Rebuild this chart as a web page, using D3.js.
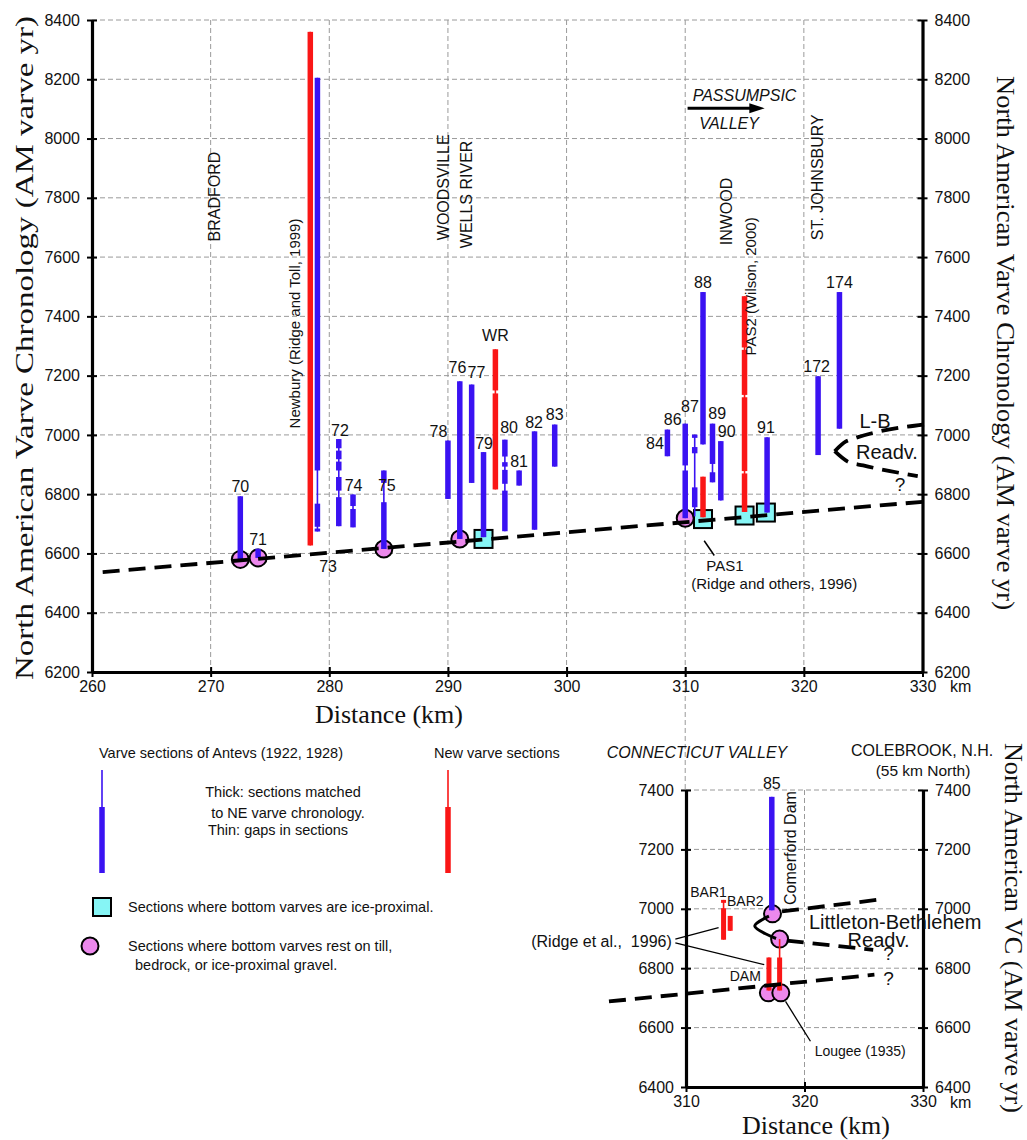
<!DOCTYPE html>
<html>
<head>
<meta charset="utf-8">
<script src="https://cdn.jsdelivr.net/npm/d3@7"></script>
<style>
  body { margin: 0; background: #fff; }
  text { font-family: "Liberation Sans", Arial, sans-serif; fill: #111; }
  .serif { font-family: "Liberation Serif", "Times New Roman", serif; }
</style>
</head>
<body>
<div id="chart-area"></div>
<script>
// ---- data ----
const kmTicks = [260, 270, 280, 290, 300, 310, 320, 330]
const yrTicks = [6200, 6400, 6600, 6800, 7000, 7200, 7400, 7600, 7800, 8000, 8200, 8400]
const insetKmTicks = [310, 320, 330]
const insetYrTicks = [6400, 6600, 6800, 7000, 7200, 7400]

// Antevs sections: [label, km, bottom yr, top yr]
const antevsSections = [
  ["70", 272.5, 6580, 6793],
  ["71", 274.0, 6585, 6616],
  ["73", 279.0, 6674, 8205],
  ["72", 280.8, 6692, 6986],
  ["74", 282.0, 6688, 6799],
  ["75", 284.6, 6615, 6880],
  ["78", 290.0, 6784, 6981],
  ["76", 291.0, 6649, 7181],
  ["77", 292.0, 6838, 7170],
  ["79", 293.0, 6655, 6942],
  ["80", 294.8, 6675, 6984],
  ["81", 296.0, 6829, 6880],
  ["82", 297.3, 6680, 7012],
  ["83", 299.0, 6893, 7035],
  ["84", 308.5, 6928, 7018],
  ["86", 310.0, 6719, 7038],
  ["87", 310.8, 6725, 7001],
  ["88", 311.5, 6968, 7482],
  ["89", 312.3, 6840, 7038],
  ["90", 313.0, 6779, 6979],
  ["91", 316.9, 6738, 6992],
  ["172", 321.2, 6932, 7198],
  ["174", 323.0, 7021, 7482]
]
// thick (matched) parts of sections with gaps, the rest are thick all along
const antevsThick = {
  "73": [[6880, 8205], [6690, 6768], [6674, 6684]],
  "72": [[6955, 6986], [6918, 6947], [6880, 6910], [6812, 6858], [6692, 6790]],
  "74": [[6760, 6799], [6688, 6750]],
  "75": [[6838, 6880], [6615, 6773]],
  "80": [[6927, 6984], [6893, 6908], [6835, 6882], [6675, 6812]],
  "86": [[6897, 7038], [6719, 6880]],
  "87": [[6990, 7001], [6938, 6959], [6756, 6823]],
  "89": [[6902, 7038], [6840, 6874]]
}
// new varve sections
const newSections = [
  ["Newbury", 278.4, 6627, 8360],
  ["WR", 294.0, 6816, 7289],
  ["PAS1", 311.5, 6722, 6859],
  ["PAS2", 315.0, 6740, 7468]
]
const newThick = {
  "WR": [[7150, 7289], [6816, 7140]],
  "PAS2": [[7295, 7468], [7135, 7287], [6878, 7127], [6740, 6870]]
}
// bottoms on till / bedrock (circles) and ice-proximal (squares): [km, yr]
const tillSites = [[272.5, 6580], [274.0, 6585], [284.6, 6615], [291.0, 6649], [310.0, 6719]]
const iceSites = [[293.0, 6649], [311.5, 6716], [315.0, 6728], [316.8, 6738]]

// section numbers: [text, km, yr of baseline]
const sectionLabels = [
  ["70", 272.5, 6806], ["71", 274.0, 6630], ["73", 279.9, 6539], ["72", 280.9, 6998],
  ["74", 282.05, 6812], ["75", 284.85, 6812], ["78", 289.2, 6992], ["76", 290.8, 7208],
  ["77", 292.4, 7191], ["79", 293.05, 6954], ["WR", 294.0, 7316], ["80", 295.15, 7005],
  ["81", 296.0, 6891], ["82", 297.26, 7023], ["83", 299.0, 7049], ["84", 307.45, 6954],
  ["86", 308.95, 7035], ["87", 310.4, 7077], ["88", 311.5, 7495], ["89", 312.7, 7055],
  ["90", 313.5, 6992], ["91", 316.8, 7005], ["172", 321.08, 7213], ["174", 323.0, 7495]
]
// vertical place names: [text, km, yr at start of text]
const placeNames = [
  ["BRADFORD", 270.3, 7653, 16],
  ["Newbury (Ridge and Toll, 1999)", 277.13, 7022, 15],
  ["WOODSVILLE", 289.6, 7657, 16],
  ["WELLS RIVER", 291.55, 7630, 16],
  ["INWOOD", 313.5, 7640, 16],
  ["PAS2 (Wilson, 2000)", 315.55, 7268, 15],
  ["ST. JOHNSBURY", 321.1, 7657, 16]
]

// ice-margin lines
const baseline = [[260.9, 6537], [330.2, 6775]]
const lbUpper = [[322.6, 6945], [323.55, 6978], [324.16, 6987], [330.3, 7036]]
const lbLower = [[322.6, 6945], [323.7, 6910], [325.0, 6897], [329.6, 6861]]

// inset (Connecticut valley)
const insetAntevs = [["85", 317.24, 6995, 7377]]
const insetNew = [["BAR1", 313.17, 6896, 7030], ["BAR2", 313.73, 6926, 6976], ["DAM1", 317.0, 6725, 6836], ["DAM2", 317.9, 6725, 6898]]
const insetNewThick = { "BAR1": [[7020, 7030], [6896, 7002]], "DAM2": [[6725, 6836]] }
const insetTill = [[317.3, 6983], [317.9, 6898], [316.95, 6717], [318.0, 6717]]
const insetBase = [[303.5, 6688], [325.9, 6778]]
const insetUpper = [[318.1, 6991], [326.1, 7030]]
const insetLower = [[318.5, 6893], [325.8, 6862]]
const insetLoop = [[317.0, 6975], [315.8, 6942], [317.6, 6900]]

// ---- layout ----
const W = 1027, H = 1140
const MAIN = { LEFT: 92, RIGHT: 922.5, TOP: 20, BOTTOM: 672 }
const INSET = { LEFT: 686, RIGHT: 923, TOP: 790, BOTTOM: 1087 }
const BLUE = "#3a12f2", RED = "#fa1616", CYAN = "#86f5f5", PINK = "#ec88ec"

const svg = d3.select("#chart-area")
  .append("svg")
  .attr("width", W)
  .attr("height", H)

const x = d3.scaleLinear().domain([260, 330]).range([MAIN.LEFT, MAIN.RIGHT])
const y = d3.scaleLinear().domain([6200, 8400]).range([MAIN.BOTTOM, MAIN.TOP])
const xi = d3.scaleLinear().domain([310, 330]).range([INSET.LEFT, INSET.RIGHT])
const yi = d3.scaleLinear().domain([6400, 7400]).range([INSET.BOTTOM, INSET.TOP])

const gridG = svg.append("g")
const markG = svg.append("g")
const axisG = svg.append("g")
const textG = svg.append("g")

// dashed grid
const grid = (xs, ys, xv, yv) => {
  gridG.append("g").selectAll("line").data(xv).join("line")
    .attr("x1", d => xs(d)).attr("x2", d => xs(d))
    .attr("y1", ys.range()[1]).attr("y2", ys.range()[0])
  gridG.append("g").selectAll("line").data(yv).join("line")
    .attr("x1", xs.range()[0]).attr("x2", xs.range()[1])
    .attr("y1", d => ys(d)).attr("y2", d => ys(d))
}
grid(x, y, kmTicks.slice(1, -1), yrTicks.slice(1))
grid(xi, yi, [320], insetYrTicks.slice(1))
gridG.append("line") // 310 km line runs down to the inset
  .attr("x1", x(310)).attr("x2", x(310))
  .attr("y1", MAIN.BOTTOM).attr("y2", INSET.TOP)
gridG.selectAll("line")
  .attr("stroke", "#9a9a9a")
  .attr("stroke-width", 1)
  .attr("stroke-dasharray", "5,3")

// symbols first, bars and lines go over them
const circles = (xs, ys, data) => markG.append("g").selectAll("circle").data(data).join("circle")
  .attr("cx", d => xs(d[0])).attr("cy", d => ys(d[1])).attr("r", 8.5)
  .attr("fill", PINK).attr("stroke", "#000").attr("stroke-width", 2)
circles(x, y, tillSites)
circles(xi, yi, insetTill)

markG.append("g").selectAll("rect").data(iceSites).join("rect")
  .attr("x", d => x(d[0]) - 9).attr("y", d => y(d[1]) - 9)
  .attr("width", 18).attr("height", 18)
  .attr("fill", CYAN).attr("stroke", "#000").attr("stroke-width", 2)

const drawSections = (xs, ys, rows, thickMap, color, w) => {
  const sec = markG.append("g").selectAll("g").data(rows).join("g")
  sec.append("line")
    .attr("x1", d => xs(d[1])).attr("x2", d => xs(d[1]))
    .attr("y1", d => ys(d[2])).attr("y2", d => ys(d[3]))
    .attr("stroke", color).attr("stroke-width", 1.6)
  sec.selectAll("rect")
    .data(d => (thickMap[d[0]] || [[d[2], d[3]]]).map(p => [d[1], p[0], p[1]]))
    .join("rect")
    .attr("x", d => xs(d[0]) - w / 2)
    .attr("y", d => ys(d[2]))
    .attr("width", w)
    .attr("height", d => ys(d[1]) - ys(d[2]))
    .attr("fill", color)
}
drawSections(x, y, newSections, newThick, RED, 5.5)
drawSections(x, y, antevsSections, antevsThick, BLUE, 5.5)
drawSections(xi, yi, insetNew, insetNewThick, RED, 5)
drawSections(xi, yi, insetAntevs, {}, BLUE, 5.5)

// ice margin lines
const dashed = (xs, ys, pts, curve) => markG.append("path")
  .attr("d", d3.line().x(d => xs(d[0])).y(d => ys(d[1])).curve(curve || d3.curveLinear)(pts))
  .attr("fill", "none").attr("stroke", "#000")
  .attr("stroke-width", 3.8).attr("stroke-dasharray", "17,9")
dashed(x, y, baseline)
dashed(x, y, lbUpper, d3.curveMonotoneX)
dashed(x, y, lbLower, d3.curveMonotoneX)
dashed(xi, yi, insetBase)
dashed(xi, yi, insetUpper)
dashed(xi, yi, insetLower)
markG.append("path")
  .attr("d", d3.line().x(d => xi(d[0])).y(d => yi(d[1])).curve(d3.curveCatmullRom)(insetLoop))
  .attr("fill", "none").attr("stroke", "#000").attr("stroke-width", 3)

// ---- axes ----
const styleAxis = (g, vertical) => {
  g.select(".domain").attr("stroke-width", 3.2)
  g.selectAll(".tick line").attr("stroke-width", 2)
    .attr(vertical ? "x1" : "y1", -5).attr(vertical ? "x2" : "y2", 5)
  g.selectAll("text").attr("font-size", "16px").attr("font-family", null).attr("fill", "#111")
}
const addAxes = (xs, ys, xv, yv) => {
  const b = axisG.append("g").attr("transform", `translate(0,${ys.range()[0]})`)
    .call(d3.axisBottom(xs).tickValues(xv).tickSizeOuter(0).tickPadding(3).tickFormat(d3.format("d")))
  styleAxis(b, false)
  const l = axisG.append("g").attr("transform", `translate(${xs.range()[0]},0)`)
    .call(d3.axisLeft(ys).tickValues(yv).tickSizeOuter(0).tickPadding(6).tickFormat(d3.format("d")))
  styleAxis(l, true)
  const r = axisG.append("g").attr("transform", `translate(${xs.range()[1]},0)`)
    .call(d3.axisRight(ys).tickValues(yv).tickSizeOuter(0).tickPadding(6).tickFormat(d3.format("d")))
  styleAxis(r, true)
}
addAxes(x, y, kmTicks, yrTicks)
addAxes(xi, yi, insetKmTicks, insetYrTicks)

// ---- text ----
const txt = (t, px, py, size, anchor, extra) => {
  const el = textG.append("text").attr("x", px).attr("y", py)
    .attr("font-size", size + "px").attr("text-anchor", anchor || "middle").text(t)
  if (extra) extra(el)
  return el
}
const rot = (t, px, py, size, angle, anchor, extra) => {
  const el = textG.append("text")
    .attr("transform", `translate(${px},${py}) rotate(${angle})`)
    .attr("dy", "0.35em").attr("font-size", size + "px")
    .attr("text-anchor", anchor || "middle").text(t)
  if (extra) extra(el)
  return el
}

sectionLabels.forEach(d => txt(d[0], x(d[1]), y(d[2]), 16))
placeNames.forEach(d => rot(d[0], x(d[1]), y(d[2]), d[3], -90, "start"))

txt("km", 950, 692, 16, "start")
txt("km", 950, 1108, 16, "start")

// axis titles
const serif = el => el.attr("class", "serif")
txt("Distance (km)", 389, 723, 26, "middle", el => serif(el).attr("textLength", 148).attr("lengthAdjust", "spacingAndGlyphs"))
txt("Distance (km)", 816, 1134, 26, "middle", el => serif(el).attr("textLength", 148).attr("lengthAdjust", "spacingAndGlyphs"))
rot("North American Varve Chronology (AM varve yr)", 24, 348, 25, -90, "middle",
  el => serif(el).attr("textLength", 664).attr("lengthAdjust", "spacingAndGlyphs"))
rot("North American Varve Chronology (AM varve yr)", 1006, 343, 25, 90, "middle",
  el => serif(el).attr("textLength", 534).attr("lengthAdjust", "spacingAndGlyphs"))
rot("North American VC (AM varve yr)", 1014, 928, 25, 90, "middle",
  el => serif(el).attr("textLength", 370).attr("lengthAdjust", "spacingAndGlyphs"))

// Passumpsic valley arrow
txt("PASSUMPSIC", x(315.0), y(8126), 16, "middle", el => el.attr("font-style", "italic"))
txt("VALLEY", x(313.7), y(8032), 16, "middle", el => el.attr("font-style", "italic"))
textG.append("line")
  .attr("x1", x(310.2)).attr("x2", x(315.6)).attr("y1", y(8102)).attr("y2", y(8102))
  .attr("stroke", "#000").attr("stroke-width", 3)
textG.append("path")
  .attr("d", `M${x(316.7)},${y(8102)} L${x(315.4)},${y(8102) - 5} L${x(315.4)},${y(8102) + 5} Z`)
  .attr("fill", "#000")

// readvance labels
txt("L-B", x(326.0), y(7025), 20)
txt("Readv.", x(327.0), y(6920), 20)
txt("?", x(328.1), y(6812), 19)

// PAS1 note
textG.append("line")
  .attr("x1", x(311.6)).attr("y1", y(6643)).attr("x2", x(312.45)).attr("y2", y(6593))
  .attr("stroke", "#000").attr("stroke-width", 1.5)
txt("PAS1", x(313.35), y(6542), 15)
txt("(Ridge and others, 1996)", x(317.5), y(6481), 15)

// inset labels
txt("85", xi(317.24), yi(7402), 16)
txt("BAR1", xi(311.9), yi(7041), 14)
txt("BAR2", xi(315.0), yi(7010), 14)
txt("DAM", xi(315.0), yi(6756), 14)
rot("Comerford Dam", xi(318.8), yi(7013), 16, -90, "start")
txt("Littleton-Bethlehem", xi(327.65), yi(6933), 20)
txt("Readv.", xi(326.25), yi(6872), 20)
txt("?", xi(327.1), yi(6829), 19)
txt("?", xi(327.1), yi(6745), 19)
txt("(Ridge et al.,  1996)", xi(308.8), yi(6872), 16, "end", el => el.attr("xml:space", "preserve").style("white-space", "pre"))
txt("Lougee (1935)", xi(324.7), yi(6504), 14)
const leader = (a, b) => textG.append("line")
  .attr("x1", xi(a[0])).attr("y1", yi(a[1])).attr("x2", xi(b[0])).attr("y2", yi(b[1]))
  .attr("stroke", "#000").attr("stroke-width", 1.3)
leader([309.1, 6898], [312.75, 6937])
leader([309.1, 6885], [316.6, 6812])
leader([318.4, 6688], [320.5, 6554])

txt("CONNECTICUT VALLEY", 697, 758, 16, "middle", el => el.attr("font-style", "italic"))
txt("COLEBROOK, N.H.", 922, 756, 16)
txt("(55 km North)", 923, 776, 15.5)

// ---- legend ----
txt("Varve sections of Antevs (1922, 1928)", 99, 758, 14.5, "start")
txt("New varve sections", 434, 758, 14.5, "start")
const legendBar = (px, color) => {
  textG.append("line").attr("x1", px).attr("x2", px).attr("y1", 770).attr("y2", 807)
    .attr("stroke", color).attr("stroke-width", 1.6)
  textG.append("rect").attr("x", px - 2.75).attr("y", 807).attr("width", 5.5).attr("height", 66)
    .attr("fill", color)
}
legendBar(102, BLUE)
legendBar(448, RED)
txt("Thick: sections matched", 283, 797, 14.5)
txt("to NE varve chronology.", 288, 818, 14.5)
txt("Thin: gaps in sections", 278, 835, 14.5)

textG.append("rect").attr("x", 93).attr("y", 898).attr("width", 18).attr("height", 18)
  .attr("fill", CYAN).attr("stroke", "#000").attr("stroke-width", 2)
txt("Sections where bottom varves are ice-proximal.", 128, 912, 14.5, "start")
textG.append("circle").attr("cx", 90).attr("cy", 946).attr("r", 8.5)
  .attr("fill", PINK).attr("stroke", "#000").attr("stroke-width", 2)
txt("Sections where bottom varves rest on till,", 128, 951, 14.5, "start")
txt("bedrock, or ice-proximal gravel.", 135, 970, 14.5, "start")
</script>
</body>
</html>
